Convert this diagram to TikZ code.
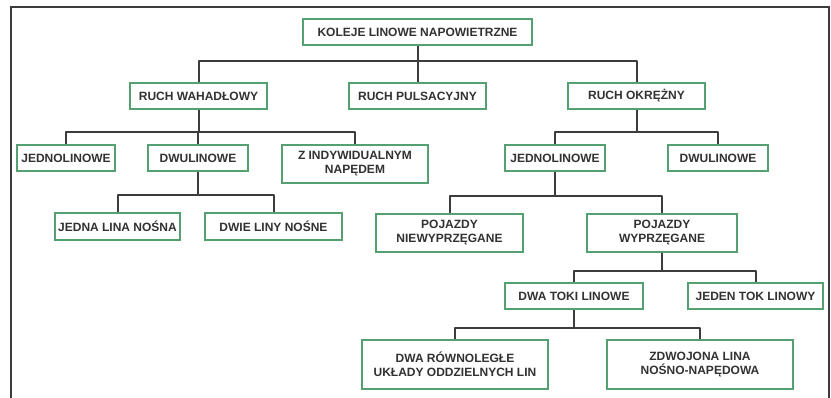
\documentclass[tikz,border=0pt]{standalone}
\usepackage{fontspec}
\setmainfont{Liberation Sans}
\usetikzlibrary{backgrounds}
\definecolor{boxgreen}{RGB}{84,160,112}
\definecolor{linegray}{RGB}{60,60,60}
\definecolor{txtgray}{RGB}{50,50,50}
\begin{document}
\begin{tikzpicture}[x=1pt,y=-1pt,
  box/.style={draw=boxgreen, line width=2pt, fill=white, inner sep=0pt, align=center,
    font=\fontsize{12}{14}\selectfont\bfseries, text=txtgray},
  conn/.style={draw=linegray, line width=2pt, line join=round},
  framel/.style={draw=linegray, line width=1.5pt}]
\useasboundingbox (0,0) rectangle (831,398);
\draw[framel] (11,398) -- (11,7) -- (829,7) -- (829,398);

% nodes
\node[box, minimum width=229pt, minimum height=26pt] (k) at (417.5,32) {KOLEJE LINOWE NAPOWIETRZNE};
\node[box, minimum width=137pt, minimum height=26pt] (rw) at (198.5,96) {RUCH WAHADŁOWY};
\node[box, minimum width=137pt, minimum height=26pt] (rp) at (417.5,96) {RUCH PULSACYJNY};
\node[box, minimum width=137pt, minimum height=26pt] (ro) at (636.5,96) {RUCH OKRĘŻNY};
\node[box, minimum width=98pt, minimum height=26pt] (j1) at (66,158) {JEDNOLINOWE};
\node[box, minimum width=100pt, minimum height=26pt] (d1) at (198,158) {DWULINOWE};
\node[box, minimum width=146pt, minimum height=38pt] (zi) at (355,164) {Z INDYWIDUALNYM\\NAPĘDEM};
\node[box, minimum width=100pt, minimum height=26pt] (j2) at (555,158) {JEDNOLINOWE};
\node[box, minimum width=100pt, minimum height=26pt] (d2) at (718,158) {DWULINOWE};
\node[box, minimum width=125pt, minimum height=27pt] (jl) at (117.5,226.5) {JEDNA LINA NOŚNA};
\node[box, minimum width=137pt, minimum height=27pt] (dl) at (273.5,226.5) {DWIE LINY NOŚNE};
\node[box, minimum width=147pt, minimum height=38pt] (pn) at (449.5,233) {POJAZDY\\NIEWYPRZĘGANE};
\node[box, minimum width=150pt, minimum height=38pt] (pw) at (662,233) {POJAZDY\\WYPRZĘGANE};
\node[box, minimum width=138pt, minimum height=26pt] (dt) at (574,296) {DWA TOKI LINOWE};
\node[box, minimum width=135pt, minimum height=26pt] (jt) at (755.5,296) {JEDEN TOK LINOWY};
\node[box, minimum width=186pt, minimum height=49pt] (dr) at (455,364.5) {DWA RÓWNOLEGŁE\\UKŁADY ODDZIELNYCH LIN};
\node[box, minimum width=186pt, minimum height=49pt] (zd) at (700,364.5) {ZDWOJONA LINA\\NOŚNO-NAPĘDOWA};

% bus levels
\coordinate (b1) at (0,61);
\coordinate (b2) at (0,132);
\coordinate (b3) at (0,195);
\coordinate (b4) at (0,196);
\coordinate (b5) at (0,271);
\coordinate (b6) at (0,328);

\begin{scope}[on background layer]
\foreach \c in {rw,rp,ro}
  \draw[conn] (k.south) -- (k.south |- b1) -| (\c.north);
\foreach \c in {j1,d1,zi}
  \draw[conn] (rw.south) -- (rw.south |- b2) -| (\c.north);
\foreach \c in {j2,d2}
  \draw[conn] (ro.south) -- (ro.south |- b2) -| (\c.north);
\foreach \c in {jl,dl}
  \draw[conn] (d1.south) -- (d1.south |- b3) -| (\c.north);
\foreach \c in {pn,pw}
  \draw[conn] (j2.south) -- (j2.south |- b4) -| (\c.north);
\foreach \c in {dt,jt}
  \draw[conn] (pw.south) -- (pw.south |- b5) -| (\c.north);
\foreach \c in {dr,zd}
  \draw[conn] (dt.south) -- (dt.south |- b6) -| (\c.north);
\end{scope}
\end{tikzpicture}
\end{document}
